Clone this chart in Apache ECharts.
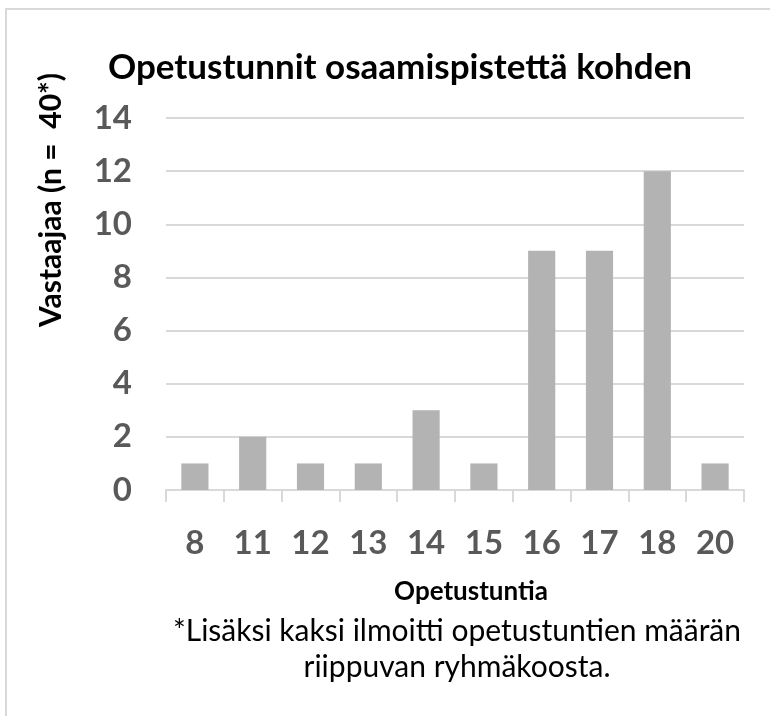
<!DOCTYPE html>
<html>
<head>
<meta charset="utf-8">
<script src="https://cdn.jsdelivr.net/npm/echarts@6/dist/echarts.min.js"></script>
<style>
  html, body { margin: 0; padding: 0; background: #fff; }
  #chart { width: 770px; height: 716px; }
</style>
</head>
<body>
<div id="chart"></div>
<script>
  const categories = ['8', '11', '12', '13', '14', '15', '16', '17', '18', '20']
  const respondents = [1, 2, 1, 1, 3, 1, 9, 9, 12, 1]
  const yTicks = [0, 2, 4, 6, 8, 10, 12, 14]

  const titleText = 'Opetustunnit osaamispistettä kohden'
  const yName = 'Vastaajaa (n =  40*)'
  const xName = 'Opetustuntia'
  const footnote = '*Lisäksi kaksi ilmoitti opetustuntien määrän\nriippuvan ryhmäkoosta.'

  const font = 'Lato, "Open Sans", sans-serif'
  const chart = echarts.init(document.getElementById('chart'))

  const option = {
    animation: false,
    textStyle: { fontFamily: font },
    grid: { left: 166, right: 26, top: 118, bottom: 226 },
    xAxis: {
      type: 'category',
      data: categories,
      axisLine: { lineStyle: { color: '#d9d9d9', width: 2 } },
      axisTick: { show: true, length: 12, lineStyle: { color: '#d9d9d9', width: 2 } },
      axisLabel: { color: '#595959', fontSize: 33, fontWeight: 'bold', margin: 37, fontFamily: font }
    },
    yAxis: {
      type: 'value',
      min: yTicks[0],
      max: yTicks[yTicks.length - 1],
      interval: 2,
      axisLine: { show: false },
      axisTick: { show: false },
      splitLine: { lineStyle: { color: '#d9d9d9', width: 2 } },
      axisLabel: { color: '#595959', fontSize: 33, fontWeight: 'bold', margin: 34, fontFamily: font }
    },
    series: [
      {
        type: 'bar',
        data: respondents,
        barWidth: '47%',
        itemStyle: { color: '#b3b3b3' }
      }
    ],
    graphic: [
      {
        type: 'rect',
        shape: { x: 6, y: 9, width: 800, height: 800 },
        style: { fill: 'none', stroke: '#d9d9d9', lineWidth: 2 },
        silent: true
      },
      {
        type: 'text',
        x: 400, y: 68,
        style: { text: titleText, fill: '#000', font: 'bold 35px ' + font, align: 'center', verticalAlign: 'middle' }
      },
      {
        type: 'text',
        x: 51, y: 200,
        rotation: Math.PI / 2,
        style: { text: yName, fill: '#000', font: 'bold 30px ' + font, align: 'center', verticalAlign: 'middle' }
      },
      {
        type: 'text',
        x: 471, y: 592,
        style: { text: xName, fill: '#000', font: 'bold 26px ' + font, align: 'center', verticalAlign: 'middle' }
      },
      {
        type: 'text',
        x: 457, y: 649,
        style: { text: footnote, fill: '#000', font: '30px ' + font, align: 'center', verticalAlign: 'middle', lineHeight: 36 }
      }
    ]
  }

  chart.setOption(option)
  window.addEventListener('resize', () => {
    chart.resize()
  })
</script>
</body>
</html>
